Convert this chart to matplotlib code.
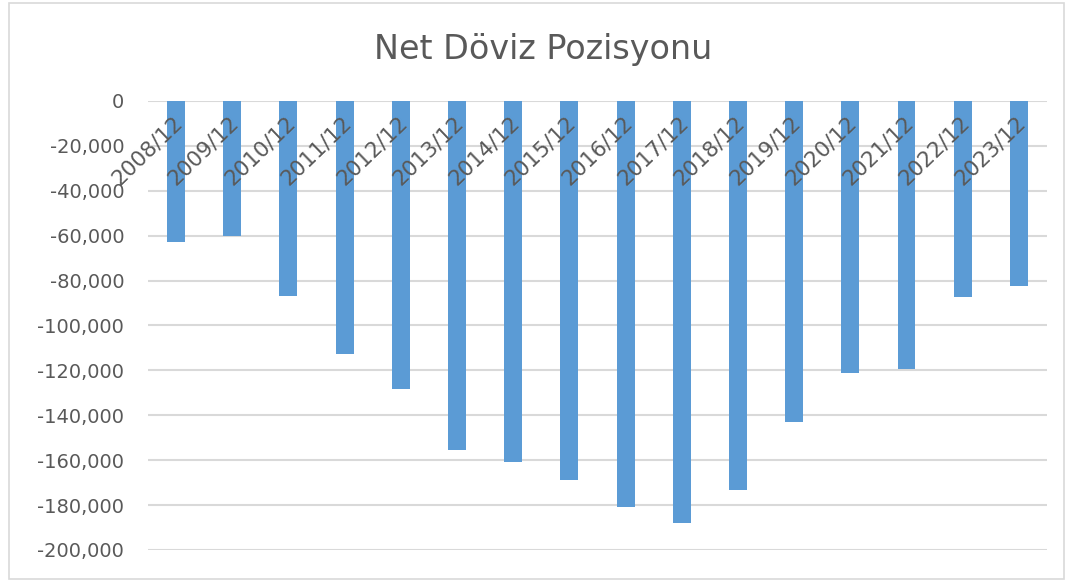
import matplotlib
matplotlib.use("Agg")
import matplotlib.pyplot as plt
from matplotlib.patches import Rectangle
from matplotlib.ticker import FuncFormatter

plt.rcParams['font.family'] = ['DejaVu Sans']

years = ['2008/12', '2009/12', '2010/12', '2011/12', '2012/12', '2013/12',
         '2014/12', '2015/12', '2016/12', '2017/12', '2018/12', '2019/12',
         '2020/12', '2021/12', '2022/12', '2023/12']
net_position = [-63000, -60000, -87000, -112600, -128300, -155300,
                -160700, -168700, -180700, -188200, -173400, -142900,
                -121300, -119600, -87500, -82600]
yticks = list(range(-200000, 1, 20000))

grey_text = '#595959'
bar_color = '#5b9bd5'
grid_color = '#d9d9d9'

fig = plt.figure(figsize=(10.69, 5.82), dpi=100)
ax = fig.add_axes([0.1384, 0.055, 0.841, 0.7715])

# outer chart border
fig.patches.append(Rectangle((0.008, 0.006), 0.987, 0.988, transform=fig.transFigure,
                             fill=False, edgecolor='#d9d9d9', linewidth=1.2))

x = range(len(years))
ax.bar(x, net_position, width=0.32, color=bar_color, zorder=3)

ax.set_xlim(-0.5, len(years) - 0.5)
ax.set_ylim(-200000, 0)
ax.set_yticks(yticks)
ax.yaxis.set_major_formatter(FuncFormatter(lambda v, p: f'{int(v):,}'))
ax.tick_params(axis='y', length=0, pad=17, labelsize=14, labelcolor=grey_text)
ax.set_xticks([])
ax.grid(axis='y', color=grid_color, linewidth=1.5, zorder=0)
for s in ax.spines.values():
    s.set_visible(False)

# category labels sit along the zero line, slanted
for i, lab in enumerate(years):
    ax.text(i - 0.06, -5000, lab, rotation=44, rotation_mode='anchor',
            ha='right', va='top', fontsize=15.5, color=grey_text, zorder=4)

fig.text(0.508, 0.915, 'Net Döviz Pozisyonu', ha='center', va='center',
         fontsize=24, color=grey_text)

fig.savefig('out.png', dpi=100)
